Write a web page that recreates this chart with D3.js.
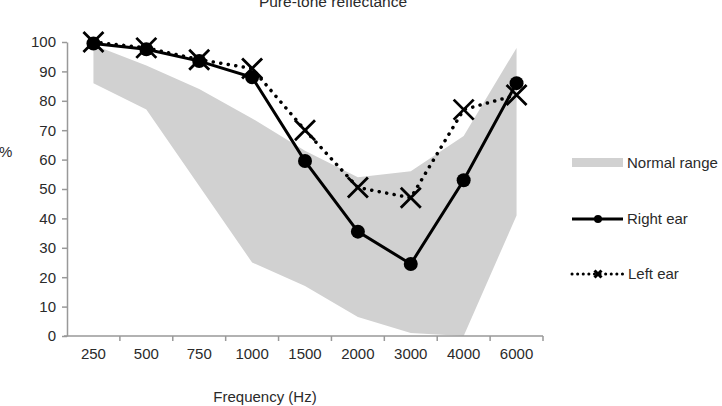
<!DOCTYPE html>
<html>
<head>
<meta charset="utf-8">
<script src="https://cdn.jsdelivr.net/npm/d3@7"></script>
<style>
  body { margin: 0; background: #fff; }
  svg { display: block; font-family: "Liberation Sans", Arial, sans-serif; }
</style>
</head>
<body>
<div id="chart"></div>
<script>
// frequencies (categories)
var freqs = ['250', '500', '750', '1000', '1500', '2000', '3000', '4000', '6000'];
// reflectance %
var rightEar = [99.5, 97.5, 93.5, 88, 59.5, 35.5, 24.5, 53, 86];
var leftEar = [100, 98, 94, 91, 70, 50.5, 47, 77, 82];
// normal range band
var normalUpper = [99, 92, 84, 74, 63, 54, 56, 68, 98];
var normalLower = [86, 77, 51, 25, 17, 6.5, 1, 0, 41];
var yTicks = [0, 10, 20, 30, 40, 50, 60, 70, 80, 90, 100];

var width = 722, height = 406;
var margin = {top: 42, left: 67, right: 179, bottom: 70};

var svg = d3.select('#chart')
    .append('svg')
    .attr('width', width)
    .attr('height', height);

var x = d3.scaleBand()
    .domain(freqs)
    .range([margin.left, width - margin.right]);

var y = d3.scaleLinear()
    .domain([0, 100])
    .range([height - margin.bottom, margin.top]);

function cx(f) { return x(f) + x.bandwidth() / 2; }

var textColor = '#2a2a2a';
var axisColor = '#999';
var fs = '15px';

// title
svg.append('text')
    .attr('x', 333)
    .attr('y', 7)
    .attr('text-anchor', 'middle')
    .attr('font-size', '15.5px')
    .attr('fill', textColor)
    .text('Pure-tone reflectance');

// normal range area
var band = freqs.map(function(f, i) {
    return {f: f, lo: normalLower[i], hi: normalUpper[i]};
});
svg.append('path')
    .datum(band)
    .attr('fill', '#d1d1d1')
    .attr('d', d3.area()
        .x(function(d) { return cx(d.f); })
        .y0(function(d) { return y(d.lo); })
        .y1(function(d) { return y(d.hi); }));

// y axis
var yAxis = svg.append('g')
    .attr('transform', 'translate(' + margin.left + ',0)')
    .call(d3.axisLeft(y).tickValues(yTicks).tickSize(5).tickPadding(6).tickSizeOuter(0));
yAxis.select('.domain').attr('stroke', axisColor).attr('stroke-width', 1.5);
yAxis.selectAll('.tick line').attr('stroke', axisColor).attr('stroke-width', 1.5);
yAxis.selectAll('.tick text')
    .attr('font-size', fs)
    .attr('font-family', '"Liberation Sans", Arial, sans-serif')
    .attr('fill', textColor);

// x axis (ticks between categories)
var xAxis = svg.append('g')
    .attr('transform', 'translate(0,' + y(0) + ')');
xAxis.append('line')
    .attr('x1', margin.left - 3)
    .attr('x2', width - margin.right)
    .attr('stroke', axisColor)
    .attr('stroke-width', 1.5);
var bounds = freqs.map(function(f) { return x(f); }).concat([x(freqs[freqs.length - 1]) + x.bandwidth()]);
xAxis.selectAll('.sep')
    .data(bounds.slice(1))
    .enter()
    .append('line')
    .attr('x1', function(d) { return d; })
    .attr('x2', function(d) { return d; })
    .attr('y1', 0)
    .attr('y2', 5)
    .attr('stroke', axisColor)
    .attr('stroke-width', 1.5);
xAxis.selectAll('.lbl')
    .data(freqs)
    .enter()
    .append('text')
    .attr('x', function(d) { return cx(d); })
    .attr('y', 23)
    .attr('text-anchor', 'middle')
    .attr('font-size', fs)
    .attr('fill', textColor)
    .text(function(d) { return d; });

// axis titles
svg.append('text')
    .attr('x', 265)
    .attr('y', 402)
    .attr('text-anchor', 'middle')
    .attr('font-size', fs)
    .attr('fill', textColor)
    .text('Frequency (Hz)');

svg.append('text')
    .attr('x', -1)
    .attr('y', 157)
    .attr('font-size', fs)
    .attr('fill', textColor)
    .text('%');

// left ear, dotted with crosses
var leftData = freqs.map(function(f, i) { return {f: f, v: leftEar[i]}; });
var rightData = freqs.map(function(f, i) { return {f: f, v: rightEar[i]}; });

var line = d3.line()
    .x(function(d) { return cx(d.f); })
    .y(function(d) { return y(d.v); });

svg.append('path')
    .datum(leftData)
    .attr('fill', 'none')
    .attr('stroke', '#000')
    .attr('stroke-width', 3.5)
    .attr('stroke-linecap', 'round')
    .attr('stroke-dasharray', '0.1 7.5')
    .attr('d', line);

svg.append('path')
    .datum(rightData)
    .attr('fill', 'none')
    .attr('stroke', '#000')
    .attr('stroke-width', 3)
    .attr('d', line);

svg.selectAll('.dot')
    .data(rightData)
    .enter()
    .append('circle')
    .attr('cx', function(d) { return cx(d.f); })
    .attr('cy', function(d) { return y(d.v); })
    .attr('r', 7)
    .attr('fill', '#000');

function cross(sel, s, w) {
    sel.append('path')
        .attr('d', 'M' + (-s) + ',' + (-s) + 'L' + s + ',' + s + 'M' + (-s) + ',' + s + 'L' + s + ',' + (-s))
        .attr('stroke', '#000')
        .attr('stroke-width', w)
        .attr('fill', 'none');
}

svg.selectAll('.cross')
    .data(leftData)
    .enter()
    .append('g')
    .attr('transform', function(d) { return 'translate(' + cx(d.f) + ',' + y(d.v) + ')'; })
    .each(function() { cross(d3.select(this), 10, 2.8); });

// legend
var legend = svg.append('g');
legend.append('rect')
    .attr('x', 572).attr('y', 158)
    .attr('width', 51).attr('height', 9)
    .attr('fill', '#d1d1d1');
legend.append('text')
    .attr('x', 627).attr('y', 168)
    .attr('font-size', fs).attr('fill', textColor)
    .text('Normal range');

legend.append('line')
    .attr('x1', 572).attr('x2', 623)
    .attr('y1', 219).attr('y2', 219)
    .attr('stroke', '#000').attr('stroke-width', 3);
legend.append('circle')
    .attr('cx', 598).attr('cy', 219).attr('r', 4)
    .attr('fill', '#000');
legend.append('text')
    .attr('x', 627).attr('y', 224)
    .attr('font-size', fs).attr('fill', textColor)
    .text('Right ear');

legend.append('line')
    .attr('x1', 572).attr('x2', 623)
    .attr('y1', 274).attr('y2', 274)
    .attr('stroke', '#000').attr('stroke-width', 3)
    .attr('stroke-linecap', 'round')
    .attr('stroke-dasharray', '0.1 5.5');
legend.append('g')
    .attr('transform', 'translate(598,274)')
    .call(function(g) { cross(g, 3.5, 3); });
legend.append('text')
    .attr('x', 628).attr('y', 279)
    .attr('font-size', fs).attr('fill', textColor)
    .text('Left ear');
</script>
</body>
</html>
